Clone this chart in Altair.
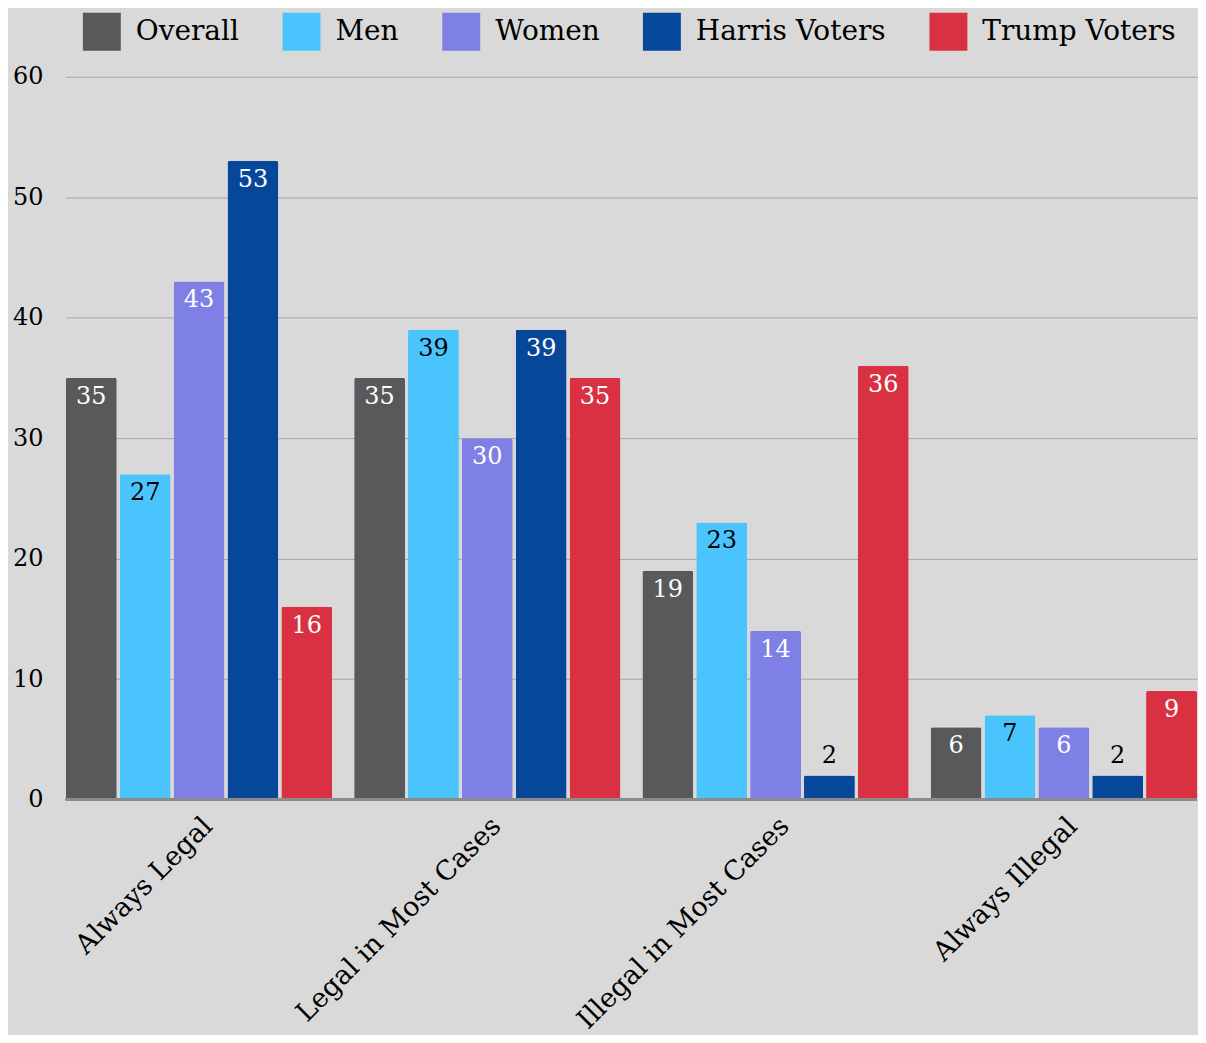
import altair as alt
import pandas as pd

categories = ["Always Legal", "Legal in Most Cases", "Illegal in Most Cases", "Always Illegal"]
series = ["Overall", "Men", "Women", "Harris Voters", "Trump Voters"]
overall = [35, 35, 19, 6]
men = [27, 39, 23, 7]
women = [43, 30, 14, 6]
harris = [53, 39, 2, 2]
trump = [16, 35, 36, 9]
y_ticks = [0, 10, 20, 30, 40, 50, 60]

colors = ["#58595b", "#4ac4fd", "#7f80e6", "#07479a", "#d93142"]
FONT = "DejaVu Serif"

values_by_series = [overall, men, women, harris, trump]
rows = []
for s, vals in zip(series, values_by_series):
    for c, v in zip(categories, vals):
        rows.append({"category": c, "series": s, "value": v})
df = pd.DataFrame(rows)

x_enc = alt.X(
    "category:N",
    sort=categories,
    title=None,
    scale=alt.Scale(paddingInner=0.076, paddingOuter=0.0),
    axis=alt.Axis(
        labelAngle=-45,
        labelFontSize=27,
        labelColor="#000000",
        labelPadding=13,
        ticks=False,
        domain=False,
        labelLimit=500,
    ),
)
xoff_enc = alt.XOffset("series:N", sort=series, scale=alt.Scale(paddingInner=0.055))
y_enc = alt.Y(
    "value:Q",
    title=None,
    scale=alt.Scale(domain=[0, 60], nice=False),
    axis=alt.Axis(
        values=y_ticks,
        labelFontSize=24,
        labelColor="#000000",
        labelPadding=23,
        ticks=False,
        domain=False,
        gridColor="#a6a6a6",
        gridWidth=1,
    ),
)

base = alt.Chart(df).encode(x=x_enc, xOffset=xoff_enc, y=y_enc)

bars = base.mark_bar(cornerRadiusTopLeft=2, cornerRadiusTopRight=2).encode(
    color=alt.Color(
        "series:N",
        sort=series,
        scale=alt.Scale(domain=series, range=colors),
        legend=alt.Legend(
            title=None,
            orient="none",
            direction="horizontal",
            legendX=17,
            legendY=-64,
            symbolType="square",
            symbolSize=1444,
            symbolStrokeWidth=0,
            labelFontSize=28,
            labelColor="#000000",
            labelOffset=15,
            columnPadding=43,
            labelLimit=400,
        ),
    )
)

inside = base.transform_filter("datum.value >= 5").mark_text(
    baseline="top", dy=7, fontSize=24, font=FONT
).encode(
    text="value:Q",
    color=alt.condition("datum.series == 'Men'", alt.value("#000000"), alt.value("#ffffff")),
)

outside = base.transform_filter("datum.value < 5").mark_text(
    baseline="bottom", dy=-7, fontSize=24, font=FONT, color="#000000"
).encode(text="value:Q")

zero = alt.Chart(df).mark_rule(color="#8c8c8c", strokeWidth=2).encode(y=alt.datum(0))

chart = (
    alt.layer(bars, zero, inside, outside)
    .properties(
        width=1133,
        height=724,
        background="#d9d9d9",
        padding={"left": 4, "top": 4, "right": 0, "bottom": 0},
    )
    .configure(font=FONT)
    .configure_view(stroke=None)
)

chart.save("out.html", embed_options={"renderer": "svg", "actions": False})
